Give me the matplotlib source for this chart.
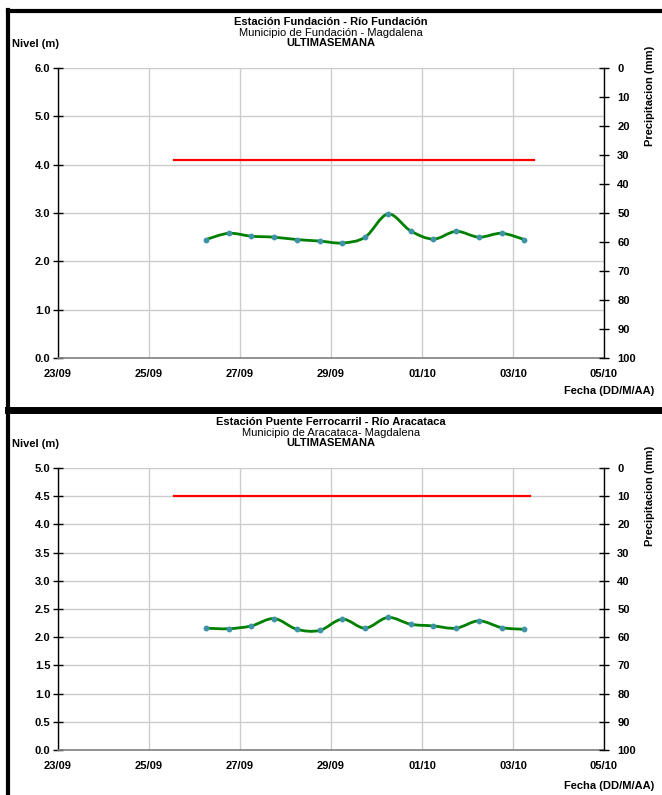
import datetime as dt
import numpy as np
import matplotlib
matplotlib.use("Agg")
import matplotlib.pyplot as plt
import matplotlib.dates as mdates
import matplotlib.ticker as mticker
from matplotlib.path import Path
from matplotlib.patches import PathPatch
from matplotlib.lines import Line2D

plt.rcParams['font.family'] = ['Liberation Sans', 'DejaVu Sans']

# ========== DATA ==========

# readings every 12 h, from 26/09 06:00 to 03/10 06:00
start = dt.datetime(2019, 9, 26, 6, 0)
times = [start + dt.timedelta(hours=12 * i) for i in range(15)]

nivel_fundacion = [2.45, 2.58, 2.52, 2.50, 2.45, 2.42, 2.38, 2.50,
                   2.98, 2.63, 2.46, 2.62, 2.50, 2.58, 2.45]
nivel_aracataca = [2.16, 2.15, 2.20, 2.33, 2.14, 2.12, 2.32, 2.16,
                   2.35, 2.23, 2.20, 2.16, 2.29, 2.17, 2.14]

# alert level (red line)
alerta_fundacion = 4.1
alerta_aracataca = 4.5
alerta_inicio = dt.datetime(2019, 9, 25, 13, 0)
alerta_fin_fundacion = dt.datetime(2019, 10, 3, 11, 0)
alerta_fin_aracataca = dt.datetime(2019, 10, 3, 9, 0)

x_ticks = [dt.datetime(2019, 9, 23) + dt.timedelta(days=2 * i) for i in range(7)]
precip_ticks = list(range(0, 101, 10))

PANELS = [
    {
        'title': "Estación Fundación - Río Fundación",
        'subtitle': "Municipio de Fundación - Magdalena",
        'nivel': nivel_fundacion,
        'alerta': alerta_fundacion,
        'alerta_fin': alerta_fin_fundacion,
        'ymax': 6.0, 'ystep': 1.0,
        'rect': [58 / 662, 1 - 358 / 795, 546 / 662, 290 / 795],
        'dy': 0, 'fecha_y': 391,
    },
    {
        'title': "Estación Puente Ferrocarril - Río Aracataca",
        'subtitle': "Municipio de Aracataca- Magdalena",
        'nivel': nivel_aracataca,
        'alerta': alerta_aracataca,
        'alerta_fin': alerta_fin_aracataca,
        'ymax': 5.0, 'ystep': 0.5,
        'rect': [58 / 662, 1 - 750 / 795, 546 / 662, 282 / 795],
        'dy': 400, 'fecha_y': 786,
    },
]

GREEN = '#008000'
MARKER = '#3f93a8'
GRID = '#cccccc'


def smooth_path(xs, ys):
    # Excel-like smoothed line: cubic bezier segments through the points
    pts = np.column_stack([xs, ys])
    n = len(pts)
    verts = [pts[0]]
    codes = [Path.MOVETO]
    for i in range(n - 1):
        p0 = pts[i - 1] if i > 0 else pts[i]
        p1 = pts[i]
        p2 = pts[i + 1]
        p3 = pts[i + 2] if i + 2 < n else pts[i + 1]
        c1 = p1 + (p2 - p0) / 6.0
        c2 = p2 - (p3 - p1) / 6.0
        verts += [c1, c2, p2]
        codes += [Path.CURVE4] * 3
    return Path(verts, codes)


def fy(py):
    return 1 - py / 795


fig = plt.figure(figsize=(6.62, 7.95), dpi=100)

for p in PANELS:
    ax = fig.add_axes(p['rect'])
    dy = p['dy']

    # level series (smoothed line + markers)
    xnum = mdates.date2num(times)
    path = smooth_path(xnum, p['nivel'])
    ax.add_patch(PathPatch(path, fill=False, edgecolor=GREEN, lw=2.0, zorder=3))
    ax.plot(times, p['nivel'], linestyle='none', marker='o', ms=3.2,
            color=MARKER, zorder=4)

    # alert level
    ax.plot([alerta_inicio, p['alerta_fin']], [p['alerta'], p['alerta']],
            color='#ff0000', lw=1.6, zorder=3)

    ax.set_xlim(x_ticks[0], x_ticks[-1])
    ax.set_ylim(0, p['ymax'])
    ax.set_xticks(x_ticks)
    ax.xaxis.set_major_formatter(mdates.DateFormatter('%d/%m'))
    ax.set_yticks(np.arange(0, p['ymax'] + 0.001, p['ystep']))
    ax.yaxis.set_major_formatter(mticker.FormatStrFormatter('%.1f'))
    ax.grid(True, color=GRID, lw=1.0)
    ax.set_axisbelow(True)

    for side in ['top', 'right']:
        ax.spines[side].set_visible(False)
    ax.spines['left'].set_color('black')
    ax.spines['left'].set_linewidth(1.0)
    ax.spines['bottom'].set_color('#808080')
    ax.spines['bottom'].set_linewidth(1.2)

    ax.tick_params(axis='y', direction='inout', length=7, width=1, labelsize=8,
                   pad=2)
    ax.tick_params(axis='x', length=0, labelsize=8, pad=8)
    for lbl in ax.get_xticklabels() + ax.get_yticklabels():
        lbl.set_fontweight('bold')

    # precipitation axis on the right, inverted
    ax2 = ax.twinx()
    ax2.set_ylim(100, 0)
    ax2.set_yticks(precip_ticks)
    for side in ['top', 'left', 'bottom']:
        ax2.spines[side].set_visible(False)
    ax2.spines['right'].set_linewidth(1.0)
    ax2.tick_params(axis='y', direction='inout', length=7, width=1, labelsize=8,
                    pad=6)
    for lbl in ax2.get_yticklabels():
        lbl.set_fontweight('bold')

    # texts
    fig.text(331 / 662, fy(22 + dy), p['title'], ha='center', va='center',
             fontsize=8, fontweight='bold')
    fig.text(331 / 662, fy(33 + dy), p['subtitle'], ha='center', va='center',
             fontsize=8)
    fig.text(331 / 662, fy(43 + dy), "ULTIMASEMANA", ha='center', va='center',
             fontsize=8, fontweight='bold')
    fig.text(12 / 662, fy(44 + dy), "Nivel (m)", ha='left', va='center',
             fontsize=8, fontweight='bold')
    fig.text(654 / 662, fy(p['fecha_y']), "Fecha (DD/M/AA)", ha='right',
             va='center', fontsize=8, fontweight='bold')
    fig.text(650 / 662, fy(96 + dy), "Precipitacion (mm)", ha='center',
             va='center', rotation=90, fontsize=8, fontweight='bold')

# panel frame lines
fig.add_artist(Line2D([8 / 662, 1], [fy(11), fy(11)], color='black', lw=3))
fig.add_artist(Line2D([8 / 662, 8 / 662], [fy(10), 0], color='black', lw=3))
fig.add_artist(Line2D([8 / 662, 1], [fy(410), fy(410)], color='black', lw=5))

fig.savefig('out.png', dpi=100)
